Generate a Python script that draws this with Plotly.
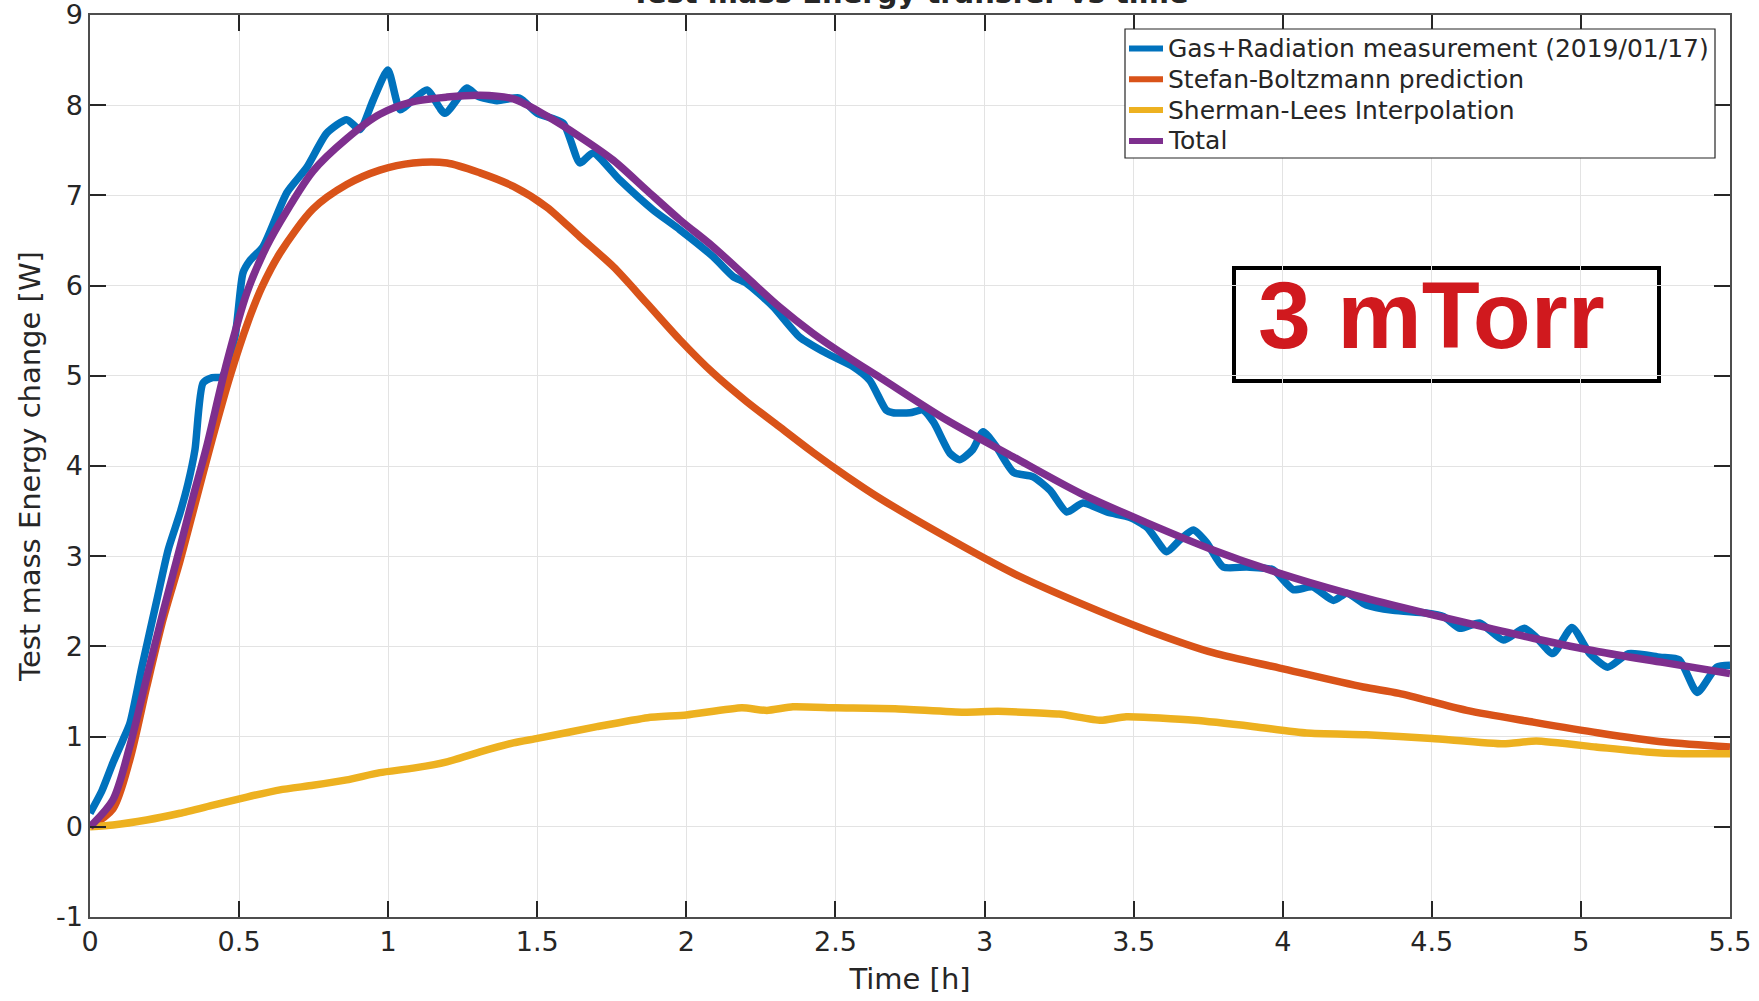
import plotly.graph_objects as go

# Gas + radiation measurement (2019/01/17)
time_meas = [0.0, 0.04, 0.077, 0.11, 0.134, 0.174, 0.224, 0.262, 0.302, 0.329, 0.352, 0.379,
             0.41, 0.443, 0.486, 0.513, 0.537, 0.58, 0.66, 0.727, 0.794, 0.861, 0.905, 0.95,
             0.999, 1.04, 1.084, 1.13, 1.19, 1.264, 1.30, 1.365, 1.44, 1.5, 1.587, 1.643,
             1.687, 1.777, 1.888, 1.978, 2.09, 2.157, 2.20, 2.29, 2.38, 2.47, 2.56, 2.615,
             2.67, 2.693, 2.75, 2.794, 2.83, 2.884, 2.917, 2.96, 2.995, 3.04, 3.097, 3.163,
             3.22, 3.276, 3.33, 3.41, 3.488, 3.545, 3.611, 3.655, 3.70, 3.745, 3.80, 3.88,
             3.967, 4.035, 4.10, 4.17, 4.215, 4.28, 4.37, 4.48, 4.54, 4.594, 4.66, 4.74,
             4.81, 4.85, 4.906, 4.97, 5.03, 5.09, 5.16, 5.265, 5.33, 5.39, 5.455, 5.5]
power_meas = [0.15, 0.40, 0.71, 0.96, 1.15, 1.77, 2.51, 3.07, 3.48, 3.81, 4.18, 4.92,
              4.98, 4.99, 5.43, 6.14, 6.28, 6.43, 7.03, 7.31, 7.69, 7.84, 7.73, 8.06,
              8.39, 7.95, 8.06, 8.17, 7.91, 8.19, 8.10, 8.05, 8.08, 7.91, 7.80, 7.36,
              7.47, 7.17, 6.84, 6.62, 6.32, 6.10, 6.03, 5.77, 5.43, 5.25, 5.10, 4.95,
              4.62, 4.59, 4.59, 4.62, 4.48, 4.14, 4.07, 4.18, 4.38, 4.21, 3.93, 3.88,
              3.73, 3.49, 3.59, 3.49, 3.43, 3.32, 3.05, 3.18, 3.29, 3.15, 2.88, 2.88,
              2.85, 2.63, 2.66, 2.51, 2.59, 2.46, 2.40, 2.37, 2.33, 2.20, 2.26, 2.07,
              2.20, 2.10, 1.92, 2.21, 1.92, 1.77, 1.92, 1.88, 1.85, 1.49, 1.77, 1.79]

# Stefan-Boltzmann radiative prediction
time_sb = [0.0, 0.077, 0.134, 0.19, 0.245, 0.302, 0.35, 0.41, 0.47, 0.53, 0.576, 0.637,
           0.748, 0.861, 0.972, 1.084, 1.197, 1.308, 1.42, 1.532, 1.643, 1.755, 1.866, 1.978,
           2.09, 2.2, 2.31, 2.425, 2.54, 2.65, 2.873, 3.097, 3.32, 3.545, 3.766, 3.99,
           4.27, 4.39, 4.617, 4.84, 5.06, 5.28, 5.5]
power_sb = [0.0, 0.20, 0.75, 1.55, 2.30, 2.95, 3.55, 4.30, 5.00, 5.60, 5.98, 6.36,
            6.85, 7.12, 7.28, 7.36, 7.36, 7.25, 7.10, 6.87, 6.54, 6.21, 5.81, 5.40,
            5.03, 4.72, 4.44, 4.15, 3.88, 3.64, 3.21, 2.81, 2.48, 2.18, 1.93, 1.76,
            1.55, 1.48, 1.29, 1.16, 1.04, 0.94, 0.885]

# Sherman-Lees gas conduction interpolation
time_sl = [0.0, 0.077, 0.19, 0.302, 0.413, 0.526, 0.637, 0.748, 0.861, 0.972, 1.084, 1.197,
           1.308, 1.42, 1.5, 1.70, 1.87, 2.0, 2.186, 2.27, 2.357, 2.5, 2.70, 2.93,
           3.045, 3.25, 3.39, 3.475, 3.705, 3.905, 4.08, 4.28, 4.5, 4.74, 4.85, 5.05,
           5.22, 5.34, 5.5]
power_sl = [0.0, 0.02, 0.075, 0.15, 0.24, 0.33, 0.41, 0.46, 0.52, 0.60, 0.65, 0.72,
            0.83, 0.93, 0.98, 1.11, 1.21, 1.24, 1.32, 1.29, 1.33, 1.32, 1.31, 1.27,
            1.28, 1.25, 1.18, 1.22, 1.18, 1.11, 1.04, 1.02, 0.98, 0.92, 0.95, 0.885,
            0.83, 0.81, 0.81]

# Total (radiation + gas)
time_total = [0.0, 0.077, 0.134, 0.19, 0.245, 0.302, 0.345, 0.39, 0.459, 0.526, 0.58, 0.637,
              0.748, 0.861, 0.972, 1.084, 1.197, 1.308, 1.42, 1.532, 1.643, 1.755, 1.866, 1.978,
              2.09, 2.2, 2.31, 2.425, 2.54, 2.65, 2.873, 3.097, 3.32, 3.545, 3.766, 3.99,
              4.215, 4.39, 4.617, 4.84, 5.06, 5.28, 5.5]
power_total = [0.0, 0.30, 0.90, 1.65, 2.38, 3.10, 3.65, 4.20, 5.15, 5.92, 6.35, 6.70,
               7.27, 7.63, 7.90, 8.04, 8.09, 8.11, 8.07, 7.88, 7.65, 7.39, 7.06, 6.73,
               6.43, 6.10, 5.77, 5.47, 5.21, 4.98, 4.51, 4.10, 3.70, 3.37, 3.07, 2.81,
               2.59, 2.44, 2.26, 2.09, 1.94, 1.82, 1.70]

x_ticks = [0, 0.5, 1, 1.5, 2, 2.5, 3, 3.5, 4, 4.5, 5, 5.5]
x_tick_text = ["0", "0.5", "1", "1.5", "2", "2.5", "3", "3.5", "4", "4.5", "5", "5.5"]
y_ticks = [-1, 0, 1, 2, 3, 4, 5, 6, 7, 8, 9]
y_tick_text = ["-1", "0", "1", "2", "3", "4", "5", "6", "7", "8", "9"]

FONT = "DejaVu Sans"
TEXT = "#262626"
LW = 7.5

# plot-area geometry in pixels, used to place the legend and the label box
W, H = 1759, 1001
L, R, T, B = 90, 29, 15, 84


def px_x(px):
    return (px - L) / (W - L - R)


def px_y(py):
    return (H - B - py) / (H - T - B)


fig = go.Figure()
series = [
    (time_meas, power_meas, "Gas+Radiation measurement (2019/01/17)", "#0072BD", 0.6),
    (time_sb, power_sb, "Stefan-Boltzmann prediction", "#D95319", 0.8),
    (time_sl, power_sl, "Sherman-Lees Interpolation", "#EDB120", 0.5),
    (time_total, power_total, "Total", "#7E2F8E", 0.8),
]
for t, p, name, color, smooth in series:
    fig.add_trace(go.Scatter(
        x=t, y=p, mode="lines", name=name,
        line=dict(color=color, width=LW, shape="spline", smoothing=smooth),
    ))

axis_common = dict(
    showgrid=True, gridcolor="#e3e3e3", gridwidth=1,
    showline=True, linecolor="#4d4d4d", linewidth=1.5, mirror="ticks",
    ticks="inside", ticklen=16, tickwidth=1.5, tickcolor="#262626",
    zeroline=False, ticklabeloverflow="allow", automargin=False,
    tickfont=dict(family=FONT, size=27, color=TEXT),
)

fig.update_xaxes(
    range=[0, 5.5], tickvals=x_ticks, ticktext=x_tick_text,
    title=dict(text="Time [h]", font=dict(family=FONT, size=29, color=TEXT), standoff=13),
    **axis_common,
)
fig.update_yaxes(
    range=[-1, 9], tickvals=y_ticks, ticktext=y_tick_text,
    title=dict(text="Test mass Energy change [W]", font=dict(family=FONT, size=29, color=TEXT), standoff=7),
    **axis_common,
)

# legend box drawn by hand so the row spacing stays compact
shapes = [
    dict(type="rect", xref="paper", yref="paper",
         x0=px_x(1125), x1=px_x(1715), y0=px_y(158), y1=px_y(29),
         line=dict(color="#262626", width=1.2), fillcolor="white", layer="above"),
    dict(type="rect", xref="paper", yref="paper",
         x0=px_x(1234), x1=px_x(1659), y0=px_y(381), y1=px_y(268),
         line=dict(color="black", width=4), fillcolor="white", layer="below"),
]
annotations = [
    dict(text="Test mass Energy transfer vs time", xref="paper", yref="paper",
         x=0.5, y=1.0, xanchor="center", yanchor="bottom", yshift=3, showarrow=False,
         font=dict(family=FONT, size=29, color=TEXT, weight="bold")),
    dict(text="3 mTorr", xref="paper", yref="paper",
         x=px_x(1256), y=px_y(315), xanchor="left", yanchor="middle", showarrow=False,
         font=dict(family="Liberation Sans", size=95, color="#D0191E", weight="bold")),
]
for i, (_, _, name, color, _) in enumerate(series):
    yc = 48.5 + 30.8 * i
    shapes.append(dict(type="line", xref="paper", yref="paper",
                       x0=px_x(1129), x1=px_x(1163), y0=px_y(yc), y1=px_y(yc),
                       line=dict(color=color, width=6), layer="above"))
    annotations.append(dict(text=name, xref="paper", yref="paper",
                            x=px_x(1166), y=px_y(yc), xanchor="left", yanchor="middle",
                            showarrow=False,
                            font=dict(family=FONT, size=25, color=TEXT)))

fig.update_layout(
    width=W, height=H,
    margin=dict(l=L, r=R, t=T, b=B),
    paper_bgcolor="white", plot_bgcolor="white",
    showlegend=False,
    shapes=shapes,
    annotations=annotations,
)

fig.write_html("out.html")
